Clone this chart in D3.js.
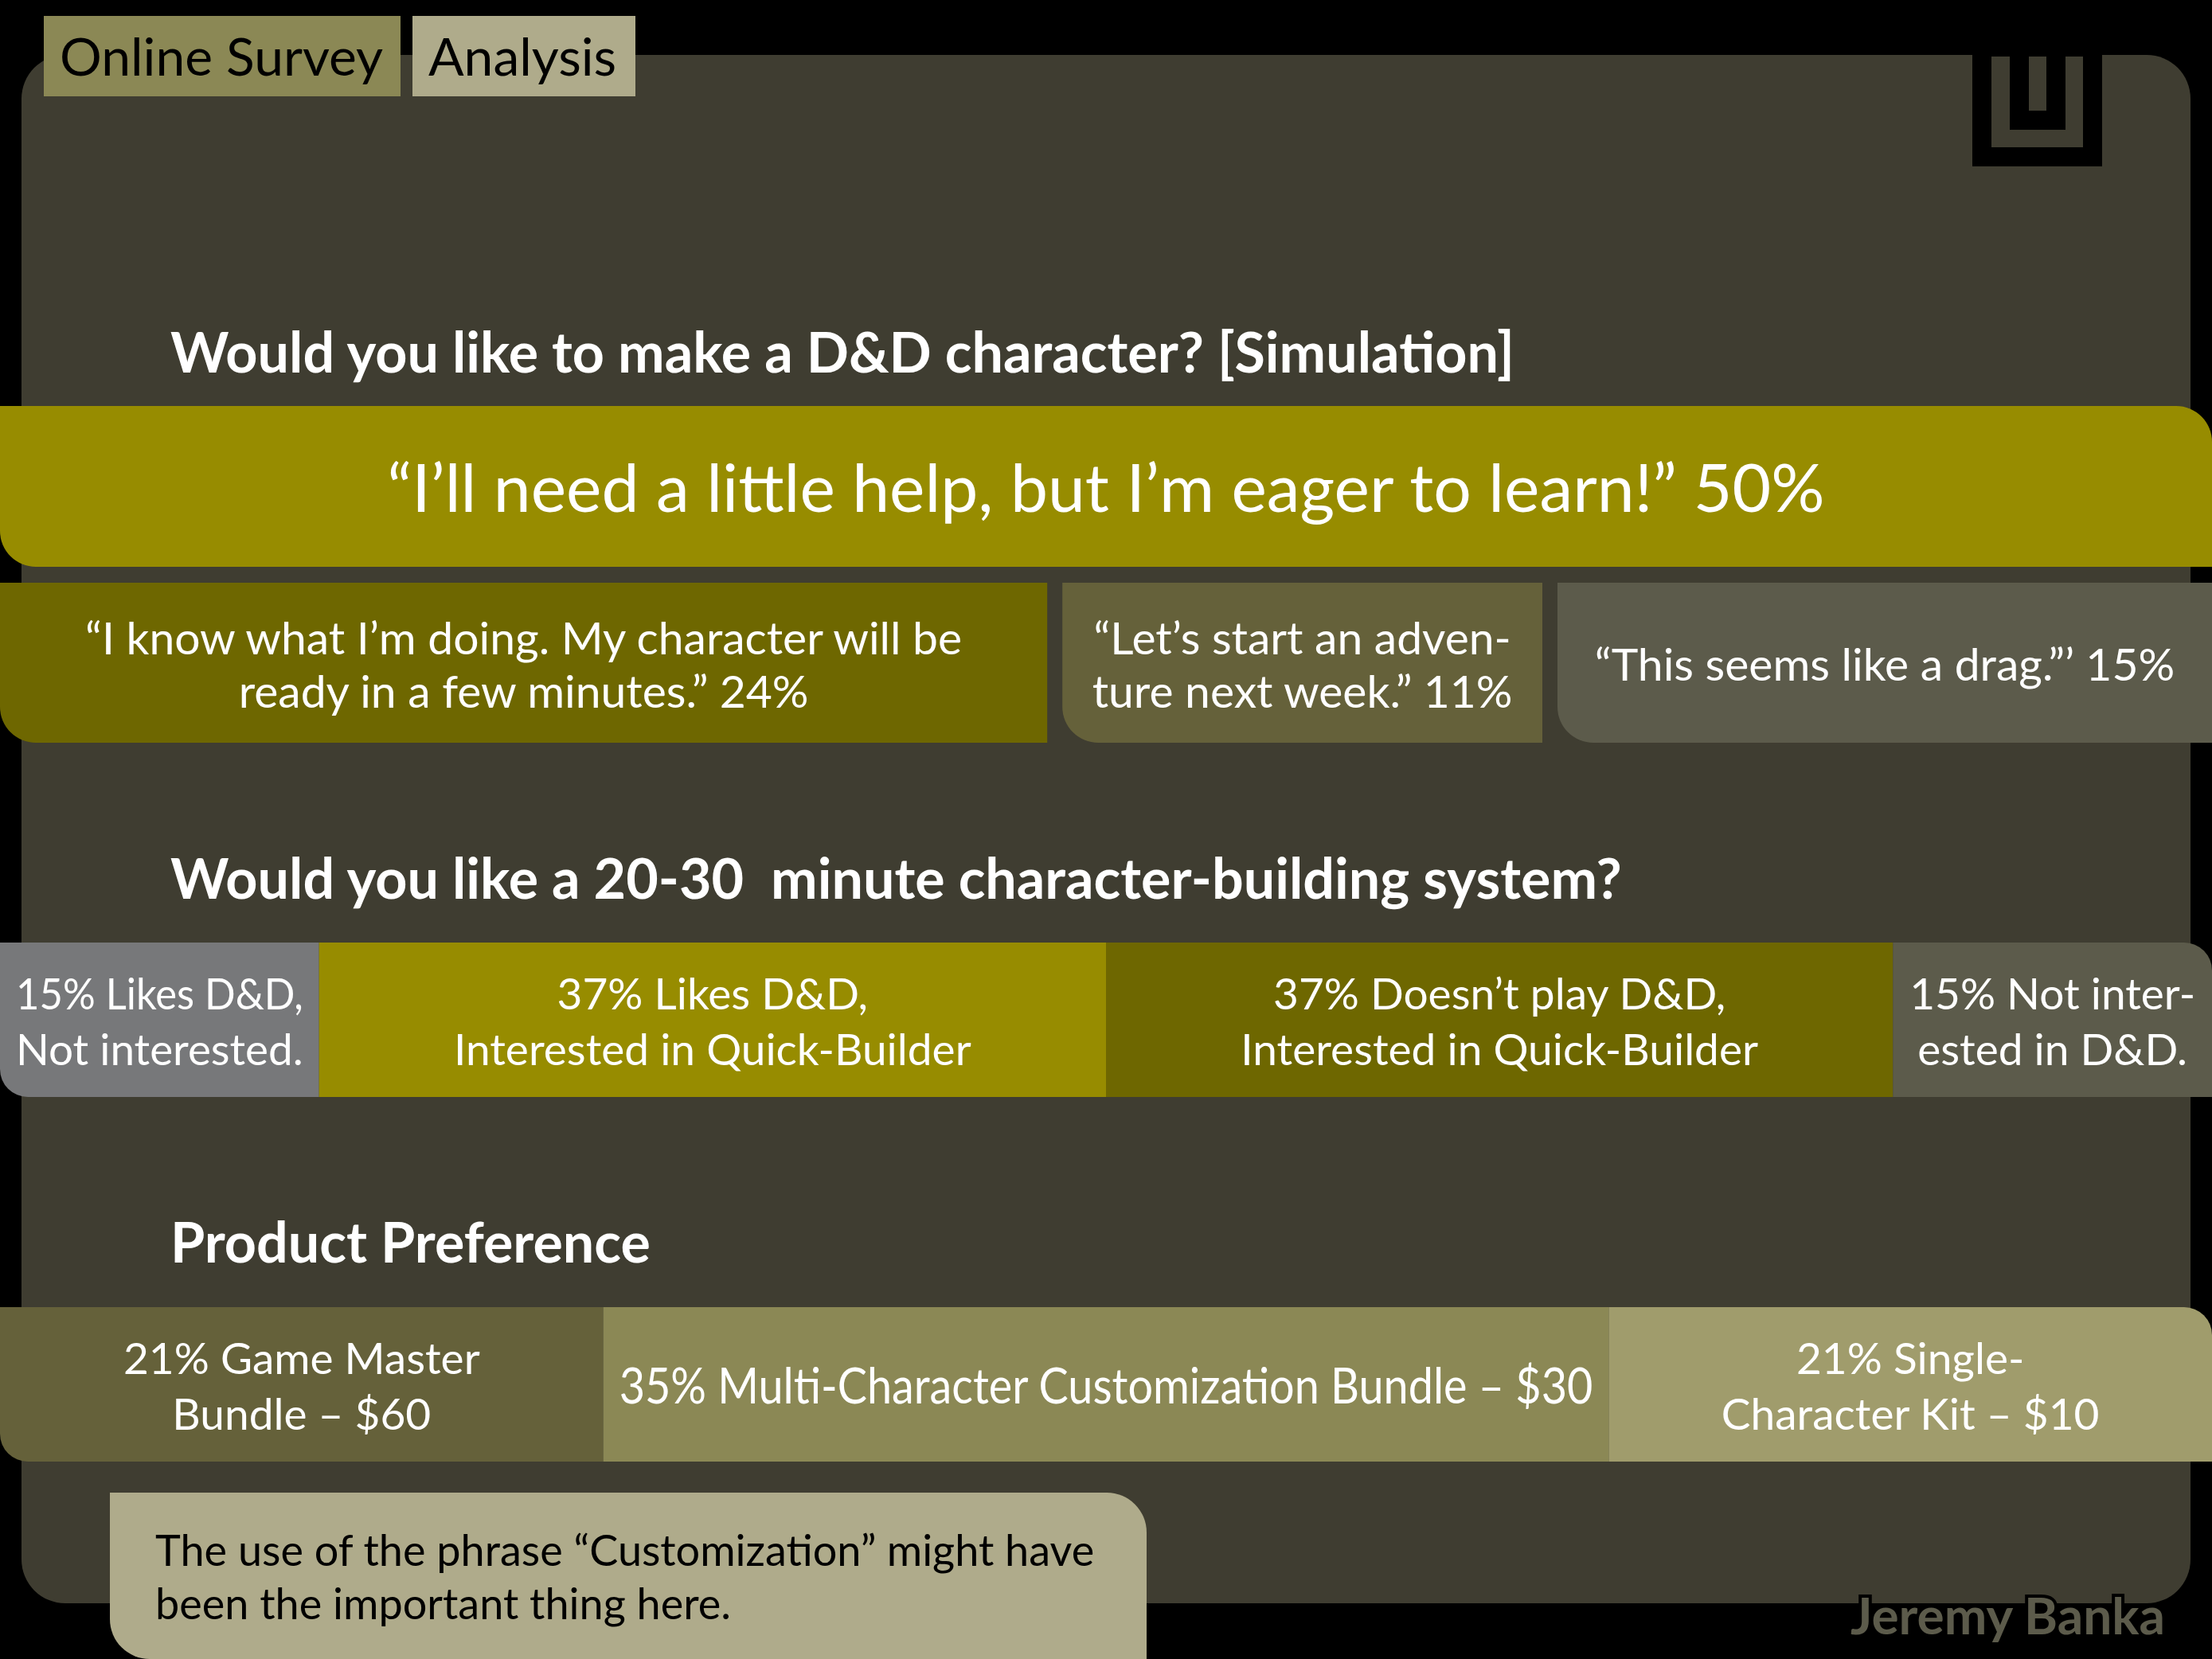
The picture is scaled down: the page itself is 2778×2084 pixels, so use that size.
<!DOCTYPE html>
<html>
<head>
<meta charset="utf-8">
<script src="https://cdn.jsdelivr.net/npm/d3@7"></script>
<style>
  html, body { margin: 0; padding: 0; background: #000; }
  svg { display: block; }
  text { font-family: Lato, "Open Sans", sans-serif; }
</style>
</head>
<body>
<svg id="chart" width="2778" height="2084"></svg>
<script>
// ---- data ----
const tabs = ["Online Survey", "Analysis"];
const titles = [
  "Would you like to make a D&D character? [Simulation]",
  "Would you like a 20-30  minute character-building system?",
  "Product Preference"
];
const simTopValues = [50];
const simTopLabels = [["“I’ll need a little help, but I’m eager to learn!” 50%"]];
const simRestValues = [24, 11, 15];
const simRestLabels = [
  ["“I know what I’m doing. My character will be", "ready in a few minutes.” 24%"],
  ["“Let’s start an adven-", "ture next week.” 11%"],
  ["“This seems like a drag.”’ 15%"]
];
const builderValues = [15, 37, 37, 15];
const builderLabels = [
  ["15% Likes D&D,", "Not interested."],
  ["37% Likes D&D,", "Interested in Quick-Builder"],
  ["37% Doesn’t play D&D,", "Interested in Quick-Builder"],
  ["15% Not inter-", "ested in D&D."]
];
const productValues = [21, 35, 21];
const productLabels = [
  ["21% Game Master", "Bundle – $60"],
  ["35% Multi-Character Customization Bundle – $30"],
  ["21% Single-", "Character Kit – $10"]
];
const noteLines = ["The use of the phrase “Customization” might have", "been the important thing here."];
const credit = "Jeremy Banka";

// ---- layout / style ----
const W = 2778, H = 2084;
const panelColor = "#3f3d31";
const svg = d3.select("#chart");

function roundRect(x, y, w, h, r) {
  const tl = r.tl || 0, tr = r.tr || 0, br = r.br || 0, bl = r.bl || 0;
  const p = d3.path();
  p.moveTo(x + tl, y);
  p.lineTo(x + w - tr, y);
  if (tr) p.arcTo(x + w, y, x + w, y + tr, tr);
  p.lineTo(x + w, y + h - br);
  if (br) p.arcTo(x + w, y + h, x + w - br, y + h, br);
  p.lineTo(x + bl, y + h);
  if (bl) p.arcTo(x, y + h, x, y + h - bl, bl);
  p.lineTo(x, y + tl);
  if (tl) p.arcTo(x, y, x + tl, y, tl);
  p.closePath();
  return p.toString();
}

// squeeze a label when it would not fit its box
function fit(sel, maxW) {
  sel.each(function () {
    const len = this.getComputedTextLength();
    if (len > maxW) d3.select(this).attr("textLength", maxW).attr("lengthAdjust", "spacingAndGlyphs");
  });
}

svg.append("rect").attr("width", W).attr("height", H).attr("fill", "#000");

// panel
svg.append("path")
  .attr("d", roundRect(27, 69, 2724, 1945, {tl: 55, tr: 55, br: 55, bl: 55}))
  .attr("fill", panelColor);

// logo
const logo = svg.append("g");
logo.append("rect").attr("x", 2477).attr("y", 69).attr("width", 163).attr("height", 140).attr("fill", "#000");
logo.append("rect").attr("x", 2501).attr("y", 71).attr("width", 115).attr("height", 114).attr("fill", panelColor);
logo.append("rect").attr("x", 2524).attr("y", 71).attr("width", 70).attr("height", 92).attr("fill", "#000");
logo.append("rect").attr("x", 2548).attr("y", 71).attr("width", 22).attr("height", 68).attr("fill", panelColor);

// tabs
const tabBoxes = [{x: 55, w: 448, fill: "#8b8855"}, {x: 518, w: 280, fill: "#afab8b"}];
tabs.forEach((t, i) => {
  svg.append("rect").attr("x", tabBoxes[i].x).attr("y", 20).attr("width", tabBoxes[i].w).attr("height", 101)
    .attr("fill", tabBoxes[i].fill);
  svg.append("text").attr("x", tabBoxes[i].x + 20).attr("y", 95)
    .attr("font-size", 66).attr("fill", "#000").text(t)
    .call(fit, tabBoxes[i].w - 34);
});

// section titles
const titleY = [468, 1129, 1586];
titles.forEach((t, i) => {
  svg.append("text").attr("x", 214).attr("y", titleY[i])
    .attr("font-size", 70).attr("font-weight", 700).attr("fill", "#fff")
    .style("white-space", "pre").text(t);
});

// bar rows
const rows = [
  {values: simTopValues, labels: simTopLabels, colors: ["#978c00"], y: 510, h: 202, gap: 0,
   size: [84], lineH: 0, corners: [{bl: 45, tr: 45}]},
  {values: simRestValues, labels: simRestLabels, colors: ["#6e6700", "#65613a", "#5c5b4b"], y: 732, h: 201, gap: 19,
   size: [57, 57, 57], lineH: 67, corners: [{bl: 45}, {bl: 45}, {bl: 45}]},
  {values: builderValues, labels: builderLabels, colors: ["#77787a", "#978c00", "#6e6700", "#5c5b4b"], y: 1184, h: 194, gap: 0,
   size: [55, 55, 55, 55], lineH: 70, corners: [{bl: 35}, {}, {}, {tr: 35}]},
  {values: productValues, labels: productLabels, colors: ["#65613a", "#8b8855", "#a09c6c"], y: 1642, h: 194, gap: 0,
   size: [55, 62, 55], lineH: 70, corners: [{bl: 35}, {}, {tr: 35}]}
];

rows.forEach(row => {
  const n = row.values.length;
  const x = d3.scaleLinear().domain([0, d3.sum(row.values)]).range([0, W - row.gap * (n - 1)]);
  const starts = d3.cumsum([0].concat(row.values)).slice(0, n);
  const g = svg.append("g");
  row.values.forEach((v, i) => {
    const x0 = x(starts[i]) + i * row.gap, w = x(v);
    g.append("path").attr("d", roundRect(x0, row.y, w, row.h, row.corners[i])).attr("fill", row.colors[i]);
    const lines = row.labels[i];
    const size = row.size[i];
    const mid = row.y + row.h / 2;
    lines.forEach((line, j) => {
      const by = mid + 0.72 * size / 2 + (j - (lines.length - 1) / 2) * row.lineH + 2;
      g.append("text").attr("x", x0 + w / 2).attr("y", by)
        .attr("text-anchor", "middle").attr("font-size", size).attr("fill", "#fff")
        .text(line).call(fit, w - 40);
    });
  });
});

// note box
svg.append("path").attr("d", roundRect(138, 1875, 1302, 209, {tr: 50, bl: 50})).attr("fill", "#afab8b");
noteLines.forEach((l, i) => {
  svg.append("text").attr("x", 195).attr("y", 1967 + i * 67)
    .attr("font-size", 54).attr("fill", "#000").text(l);
});

// credit
svg.append("text").attr("x", 2719).attr("y", 2053).attr("text-anchor", "end")
  .attr("font-size", 64).attr("font-weight", 700)
  .attr("fill", "#5c5b4b").attr("stroke", "#000").attr("stroke-width", 8)
  .attr("paint-order", "stroke").text(credit);
</script>
</body>
</html>
